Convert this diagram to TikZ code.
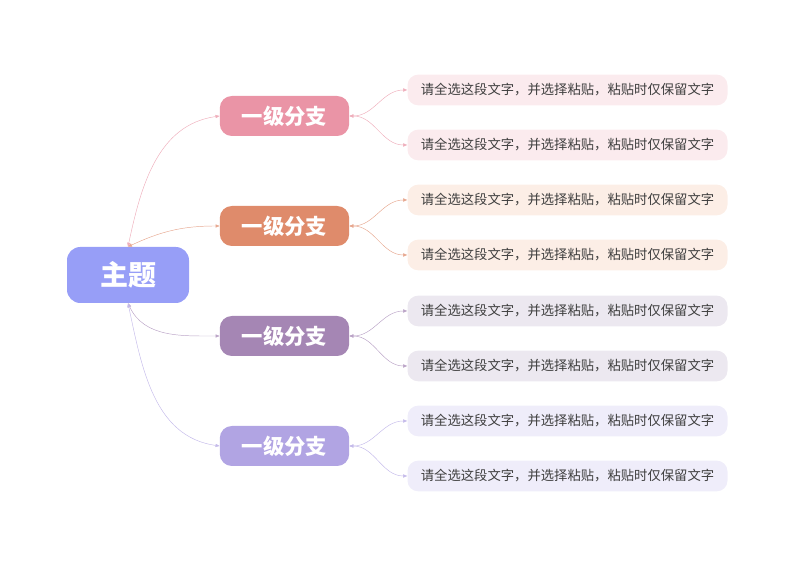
\documentclass[tikz,border=0pt]{standalone}
\usepackage{fontspec}
\setmainfont{Noto Sans CJK SC}
\usetikzlibrary{arrows.meta}
\definecolor{mainBlue}{HTML}{979EF7}
\definecolor{branchPink}{HTML}{EA94A6}
\definecolor{branchOrange}{HTML}{DF8B6B}
\definecolor{branchPurple}{HTML}{A586B4}
\definecolor{branchLavender}{HTML}{B1A4E3}
\definecolor{leafPink}{HTML}{FBEBEE}
\definecolor{leafOrange}{HTML}{FCEEE6}
\definecolor{leafPurple}{HTML}{ECE8F0}
\definecolor{leafLavender}{HTML}{EFEDFA}
\definecolor{leafText}{HTML}{3E3E3E}

\begin{document}
\begin{tikzpicture}
[x=0.75pt,y=0.75pt,%
  mainDecorate/.style={shape=rectangle,rounded corners=10pt,fill=mainBlue,text=white,minimum width=91.5pt,minimum height=42pt,font=\fontsize{21}{24}\selectfont\bfseries},%
  branchDecorate/.style={shape=rectangle,rounded corners=9pt,text=white,minimum width=97pt,minimum height=30pt,font=\fontsize{16}{19}\selectfont\bfseries},%
  leafDecorate/.style={shape=rectangle,rounded corners=8pt,text=leafText,minimum width=240pt,minimum height=23pt,font=\fontsize{10}{12}\selectfont},%
  lineDecorate/.style={{Triangle[length=3pt,width=2.4pt]}-{Triangle[length=3pt,width=2.4pt]},line width=0.35pt}]
\useasboundingbox (0,0) rectangle (800,566);
%% central topic
\node (main) at (128,291) [mainDecorate] {主题};
%% first level branches
\foreach \nodename/\y/\col in {b1/450/branchPink, b2/340/branchOrange, b3/230/branchPurple, b4/120/branchLavender}
{
  \node (\nodename) at (284.5,\y) [branchDecorate,fill=\col] {一级分支};
}
%% leaves
\foreach \nodename/\y/\col in {l1/476/leafPink, l2/421/leafPink, l3/366/leafOrange, l4/311/leafOrange, l5/255/leafPurple, l6/200/leafPurple, l7/145/leafLavender, l8/90/leafLavender}
{
  \node (\nodename) at (567.5,\y) [leafDecorate,fill=\col] {请全选这段文字，并选择粘贴，粘贴时仅保留文字};
}
%% edges or lines
\path
\foreach \startnode/\endnode/\col/\o/\i in {main.north/b1/branchPink/78/188, main.north/b2/branchOrange/25/180, main.south/b3/branchPurple/-65/180, main.south/b4/branchLavender/-78/172}
{
  (\startnode) edge[lineDecorate,draw=\col!75!white,out=\o,in=\i] (\endnode.west)
};
\path
\foreach \startnode/\endnode/\col in {b1/l1/branchPink, b1/l2/branchPink, b2/l3/branchOrange, b2/l4/branchOrange, b3/l5/branchPurple, b3/l6/branchPurple, b4/l7/branchLavender, b4/l8/branchLavender}
{
  (\startnode.east) edge[lineDecorate,draw=\col!75!white,out=0,in=180] (\endnode.west)
};
\end{tikzpicture}
\end{document}
